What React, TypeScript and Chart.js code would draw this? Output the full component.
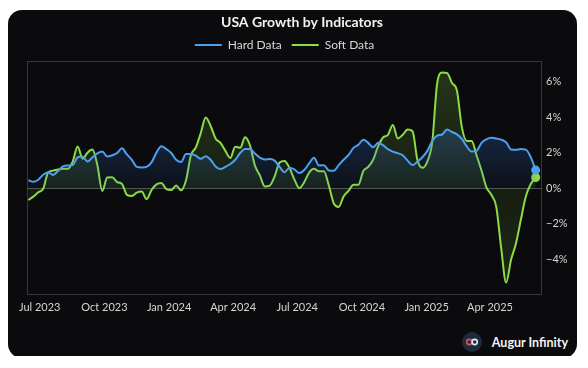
import React, { useEffect, useRef } from 'react';
import { Chart, registerables } from 'chart.js';

Chart.register(...registerables);

const titleText = 'USA Growth by Indicators';
const seriesNames = ['Hard Data', 'Soft Data'];
const axisOrigin = '2023-07-01';
const firstObservation = '2023-06-15';
const axisStart = '2023-06-13';
const axisEnd = '2025-06-14';

const hardData = [
  0.45, 0.36, 0.48, 0.76, 0.90, 0.75, 0.97, 1.23, 1.28, 1.30,
  1.74, 1.78, 1.50, 1.74, 1.96, 2.07, 1.78, 1.85, 1.98, 2.24,
  1.90, 1.60, 1.20, 1.17, 1.20, 1.45, 2.00, 2.36, 2.20, 1.98,
  1.60, 1.47, 1.92, 1.92, 1.83, 1.65, 1.80, 1.60, 1.22, 1.08,
  1.20, 1.36, 1.60, 1.98, 2.20, 2.21, 1.95, 1.72, 1.62, 1.64,
  1.55, 1.20, 0.90, 1.15, 1.06, 0.85, 1.02, 1.40, 1.72, 1.28,
  1.29, 1.00, 0.98, 1.30, 1.60, 1.87, 2.27, 2.44, 2.73, 2.55,
  2.30, 2.55, 2.42, 2.20, 2.06, 1.97, 1.85, 1.55, 1.30, 1.50,
  1.74, 2.10, 2.65, 2.95, 3.02, 3.30, 3.16, 3.03, 2.78, 2.35,
  2.06, 2.10, 2.55, 2.75, 2.83, 2.80, 2.73, 2.58, 2.18, 2.16,
  2.20, 2.17, 1.75, 1.02,
];

const softData = [
  -0.66, -0.47, -0.23, -0.03, 0.88, 0.99, 1.05, 1.10, 1.09, 1.50,
  2.35, 1.66, 2.00, 2.17, 1.30, -0.15, 0.60, 0.62, 0.35, 0.24,
  -0.37, -0.43, -0.25, -0.19, -0.62, -0.10, 0.22, 0.30, -0.05, -0.10,
  0.15, -0.12, 0.45, 1.85, 2.30, 3.10, 3.97, 3.50, 2.80, 2.55,
  2.10, 1.70, 2.33, 2.27, 2.86, 2.40, 1.27, 0.72, 0.10, 0.15,
  0.67, 1.45, 1.53, 1.15, 0.50, 0.00, 0.34, 0.88, 1.09, 0.95,
  0.96, 0.15, -0.85, -1.05, -0.46, -0.15, 0.20, 0.20, 0.97, 1.20,
  1.60, 2.35, 2.85, 3.00, 3.55, 2.80, 3.00, 3.30, 3.20, 1.57,
  1.15, 1.50, 2.60, 5.90, 6.50, 6.48, 5.92, 5.50, 3.45, 2.65,
  2.66, 1.85, 1.00, 0.05, -0.37, -1.05, -3.37, -5.30, -4.02, -3.10,
  -1.76, -0.47, 0.24, 0.60,
];

const tickDates = [
  '2023-07-01', '2023-10-01', '2024-01-01', '2024-04-01',
  '2024-07-01', '2024-10-01', '2025-01-01', '2025-04-01',
];
const tickLabels = [
  'Jul 2023', 'Oct 2023', 'Jan 2024', 'Apr 2024',
  'Jul 2024', 'Oct 2024', 'Jan 2025', 'Apr 2025',
];
const yTicks = [-4, -2, 0, 2, 4, 6];

const DAY = 86400000;
const dayOffset = (iso: string) => (Date.parse(iso) - Date.parse(axisOrigin)) / DAY;
const weekDates = hardData.map((_, i) =>
  new Date(Date.parse(firstObservation) + i * 7 * DAY).toISOString().slice(0, 10)
);

const BLUE = '#4d9ff0';
const GREEN = '#8cdc48';

function makeFill(rgb: string, topVal: number, aTop: number, aZero: number, botVal: number, aBot: number) {
  return (context: any) => {
    const chart = context.chart;
    const { ctx, chartArea, scales } = chart;
    if (!chartArea || !scales.y) return `rgba(${rgb},${aZero})`;
    const yTop = scales.y.getPixelForValue(topVal);
    const yBot = scales.y.getPixelForValue(botVal);
    const y0 = scales.y.getPixelForValue(0);
    const g = ctx.createLinearGradient(0, yTop, 0, yBot);
    const f = (y0 - yTop) / (yBot - yTop);
    g.addColorStop(0, `rgba(${rgb},${aTop})`);
    g.addColorStop(Math.min(1, Math.max(0, f)), `rgba(${rgb},${aZero})`);
    g.addColorStop(1, `rgba(${rgb},${aBot})`);
    return g;
  };
}

const framePlugin = {
  id: 'frame',
  beforeDatasetsDraw(chart: any) {
    const { ctx, chartArea: a, scales } = chart;
    ctx.save();
    ctx.strokeStyle = '#38383c';
    ctx.lineWidth = 1;
    ctx.strokeRect(Math.round(a.left) + 0.5, Math.round(a.top) + 0.5, Math.round(a.width) - 1, Math.round(a.height) - 1);
    const zy = Math.round(scales.y.getPixelForValue(0)) + 0.5;
    ctx.strokeStyle = '#505054';
    ctx.beginPath();
    ctx.moveTo(a.left, zy);
    ctx.lineTo(a.right, zy);
    ctx.stroke();
    ctx.restore();
  },
};

function ChartCanvas() {
  const ref = useRef<HTMLCanvasElement | null>(null);
  useEffect(() => {
    if (!ref.current) return;
    const n = hardData.length;
    const lastPoint = (ctx: any) => (ctx.dataIndex === n - 1 ? 4.5 : 0);
    const chart = new Chart(ref.current, {
      type: 'line',
      data: {
        datasets: [
          {
            label: seriesNames[0],
            data: hardData.map((v, i) => ({ x: dayOffset(weekDates[i]), y: v })),
            borderColor: BLUE,
            borderWidth: 2,
            backgroundColor: makeFill('50,112,205', 4, 0.34, 0.06, -5, 0.1),
            fill: 'origin',
            cubicInterpolationMode: 'monotone',
            pointRadius: lastPoint,
            pointHoverRadius: lastPoint,
            pointBackgroundColor: BLUE,
            pointBorderWidth: 0,
          },
          {
            label: seriesNames[1],
            data: softData.map((v, i) => ({ x: dayOffset(weekDates[i]), y: v })),
            borderColor: GREEN,
            borderWidth: 2,
            backgroundColor: makeFill('110,170,60', 6, 0.25, 0.12, -5, 0.17),
            fill: 'origin',
            cubicInterpolationMode: 'monotone',
            pointRadius: lastPoint,
            pointHoverRadius: lastPoint,
            pointBackgroundColor: GREEN,
            pointBorderWidth: 0,
          },
        ],
      },
      options: {
        animation: false,
        responsive: false,
        maintainAspectRatio: false,
        layout: { padding: { left: 19, right: 0, top: 0, bottom: 0 } },
        plugins: {
          tooltip: { enabled: false },
          title: {
            display: true,
            text: titleText,
            color: '#f2f2f2',
            font: { family: 'Lato', size: 14, weight: 'bold', lineHeight: 1 },
            padding: { top: 5, bottom: 0 },
          },
          legend: {
            display: true,
            position: 'top',
            fullSize: false,
            labels: {
              boxWidth: 27,
              boxHeight: 2,
              padding: 10,
              color: '#d8d8d8',
              font: { family: 'Lato', size: 12 },
              generateLabels: (c: any) =>
                c.data.datasets.map((ds: any, i: number) => ({
                  text: ds.label,
                  fillStyle: ds.borderColor,
                  strokeStyle: ds.borderColor,
                  lineWidth: 0,
                  hidden: false,
                  datasetIndex: i,
                  fontColor: '#d8d8d8',
                })),
            },
          },
        },
        scales: {
          x: {
            type: 'linear',
            min: dayOffset(axisStart),
            max: dayOffset(axisEnd),
            grid: { display: false, drawTicks: false },
            border: { display: false },
            afterBuildTicks: (scale: any) => {
              scale.ticks = tickDates.map((d) => ({ value: dayOffset(d) }));
            },
            afterFit: (scale: any) => {
              scale.height = 25;
            },
            ticks: {
              padding: 6,
              color: '#d4d4d4',
              font: { family: 'Lato', size: 11 },
              maxRotation: 0,
              autoSkip: false,
              callback: (value: any) => {
                const idx = tickDates.findIndex((d) => dayOffset(d) === value);
                return idx >= 0 ? tickLabels[idx] : '';
              },
            },
          },
          y: {
            type: 'linear',
            position: 'right',
            min: -6,
            max: 7.15,
            grid: { display: false, drawTicks: false },
            border: { display: false },
            afterBuildTicks: (scale: any) => {
              scale.ticks = yTicks.map((v) => ({ value: v }));
            },
            afterFit: (scale: any) => {
              scale.width = 35;
            },
            ticks: {
              padding: 4,
              color: '#d4d4d4',
              font: { family: 'Lato', size: 11 },
              callback: (value: any) =>
                value < 0 ? '\u2212' + Math.abs(value) + '%' : value + '%',
            },
          },
        },
      },
      plugins: [framePlugin],
    } as any);
    return () => chart.destroy();
  }, []);
  return <canvas ref={ref} width={569} height={310} style={{ display: 'block' }} />;
}

export default function App() {
  return (
    <div
      style={{
        position: 'relative',
        top: 2,
        width: 569,
        height: 348,
        background: '#0b0b0d',
        borderRadius: 14,
        overflow: 'hidden',
        fontFamily: 'Lato, sans-serif',
      }}
    >
      <div style={{ position: 'absolute', left: 0, top: 0, width: 569, height: 310 }}>
        <ChartCanvas />
      </div>
      <div
        style={{
          position: 'absolute',
          right: 9,
          top: 322,
          height: 20,
          display: 'flex',
          alignItems: 'center',
          gap: 10,
        }}
      >
        <svg width="20" height="20" viewBox="0 0 20 20">
          <circle cx="10" cy="10" r="10" fill="#1d2a3c" />
          <circle cx="7.3" cy="10" r="2.6" fill="none" stroke="#e0534f" strokeWidth="1.6" />
          <circle cx="12.7" cy="10" r="2.6" fill="none" stroke="#dfe6f0" strokeWidth="1.6" />
        </svg>
        <span style={{ color: '#f4f4f4', fontWeight: 700, fontSize: 12.5 }}>Augur Infinity</span>
      </div>
    </div>
  );
}
